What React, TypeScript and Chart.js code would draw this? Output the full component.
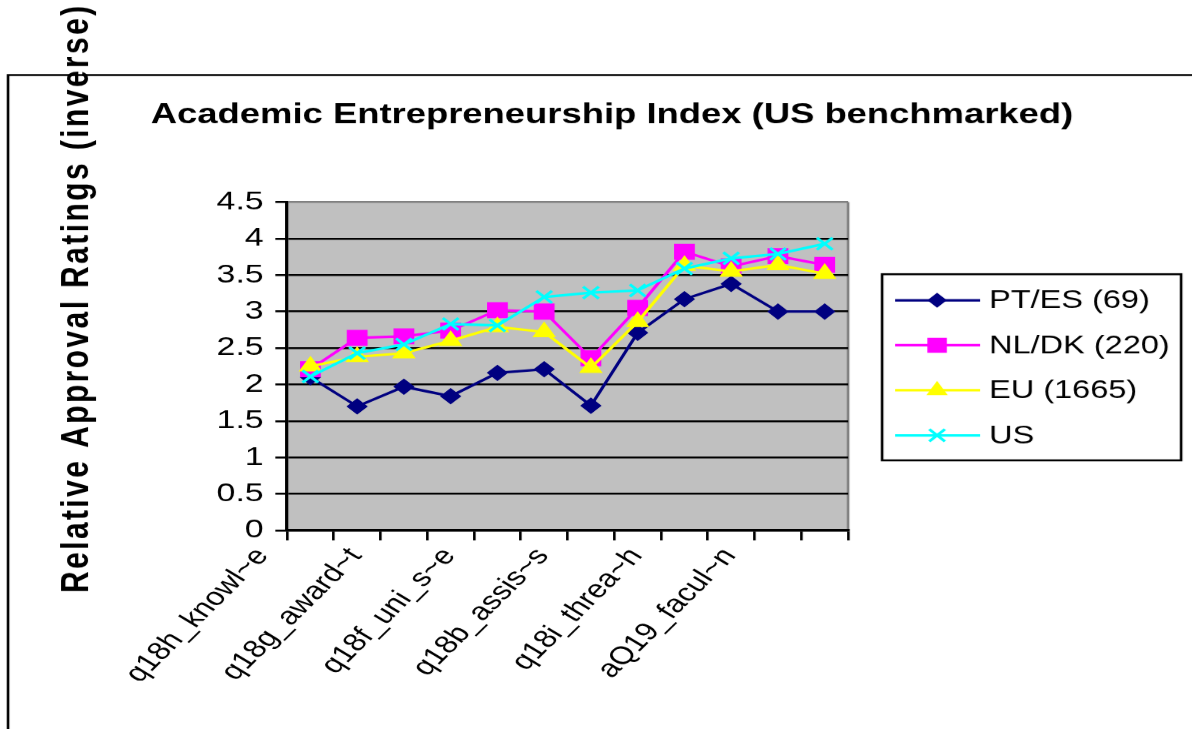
import React, { useEffect, useRef } from 'react';
import { Chart, registerables } from 'chart.js';

Chart.register(...registerables);

// ---------- data ----------
const categories = [
  'q18h_knowl~e', '', 'q18g_award~t', '', 'q18f_uni_s~e', '',
  'q18b_assis~s', '', 'q18i_threa~h', '', 'aQ19_facul~n', '',
];
const ptEs = [2.10, 1.70, 1.97, 1.84, 2.16, 2.21, 1.71, 2.71, 3.17, 3.38, 3.00, 3.00];
const nlDk = [2.21, 2.64, 2.66, 2.74, 3.02, 3.00, 2.36, 3.05, 3.82, 3.62, 3.76, 3.64];
const eu = [2.25, 2.38, 2.43, 2.60, 2.79, 2.72, 2.23, 2.86, 3.63, 3.55, 3.64, 3.52];
const us = [2.11, 2.43, 2.55, 2.83, 2.81, 3.20, 3.26, 3.29, 3.59, 3.73, 3.79, 3.93];
const seriesNames = ['PT/ES (69)', 'NL/DK (220)', 'EU (1665)', 'US'];
const chartTitle = 'Academic Entrepreneurship Index (US benchmarked)';
const yAxisTitle = 'Relative Approval Ratings (inverse)';
const yMin = 0;
const yMax = 4.5;
const yStep = 0.5;

// ---------- layout (picture is stretched horizontally) ----------
const SX = 1.3;
const LW = 917; // logical width
const LH = 729;
const lx = (v: number) => v / SX; // display x -> logical x
const FONT = '"Liberation Sans", Arial, Helvetica, sans-serif';

const colors = ['#000080', '#FF00FF', '#FFFF00', '#00FFFF'];
const styles = ['rectRot', 'rect', 'triangle', 'crossRot'];
const radii = [7.5, 10.6, 9.5, 8.5];

const plotLeft = lx(287);
const plotRight = lx(848);
const plotTop = 202;
const plotBottom = 530;
const yAxisW = 60;
const xAxisH = 150;

function drawMarker(ctx: CanvasRenderingContext2D, style: string, x: number, y: number, r: number, color: string) {
  ctx.save();
  ctx.fillStyle = color;
  ctx.strokeStyle = color;
  ctx.lineWidth = 2.5;
  ctx.beginPath();
  if (style === 'rectRot') {
    ctx.moveTo(x - r, y); ctx.lineTo(x, y - r); ctx.lineTo(x + r, y); ctx.lineTo(x, y + r); ctx.closePath();
    ctx.fill();
  } else if (style === 'rect') {
    const s = r * Math.SQRT1_2;
    ctx.rect(x - s, y - s, 2 * s, 2 * s);
    ctx.fill();
  } else if (style === 'triangle') {
    ctx.moveTo(x, y - r);
    ctx.lineTo(x + r * Math.cos(Math.PI / 6), y + r / 2);
    ctx.lineTo(x - r * Math.cos(Math.PI / 6), y + r / 2);
    ctx.closePath();
    ctx.fill();
  } else {
    const s = r * Math.SQRT1_2;
    ctx.moveTo(x - s, y - s); ctx.lineTo(x + s, y + s);
    ctx.moveTo(x + s, y - s); ctx.lineTo(x - s, y + s);
    ctx.stroke();
  }
  ctx.restore();
}

const decorPlugin = {
  id: 'decor',
  beforeDraw(chart: any) {
    const { ctx, chartArea: a } = chart;
    ctx.save();
    ctx.fillStyle = '#FFFFFF';
    ctx.fillRect(0, 0, chart.width, chart.height);
    ctx.fillStyle = '#C0C0C0';
    ctx.fillRect(a.left, a.top, a.right - a.left, a.bottom - a.top);
    ctx.strokeStyle = '#808080';
    ctx.lineWidth = 2;
    ctx.beginPath();
    ctx.moveTo(a.right, a.top);
    ctx.lineTo(a.right, a.bottom);
    ctx.stroke();
    ctx.restore();
  },
  afterDraw(chart: any) {
    const { ctx } = chart;
    ctx.save();
    // y axis title
    ctx.save();
    ctx.translate(lx(88), 298);
    ctx.rotate(-Math.PI / 2);
    ctx.font = `bold 30px ${FONT}`;
    (ctx as any).letterSpacing = '2.4px';
    ctx.fillStyle = '#000';
    ctx.textAlign = 'center';
    ctx.textBaseline = 'alphabetic';
    ctx.fillText(yAxisTitle, 0, 0);
    ctx.restore();

    // chart-area frame
    ctx.strokeStyle = '#000';
    ctx.lineWidth = 2;
    ctx.beginPath();
    ctx.moveTo(lx(8), LH + 5);
    ctx.lineTo(lx(8), 75);
    ctx.lineTo(LW + 5, 75);
    ctx.stroke();

    // title
    ctx.font = `bold 28px ${FONT}`;
    ctx.fillStyle = '#000';
    ctx.textAlign = 'center';
    ctx.textBaseline = 'middle';
    ctx.fillText(chartTitle, lx(612), 115);

    // legend
    const bl = lx(882), br = lx(1181), bt = 274, bb = 460;
    ctx.fillStyle = '#FFFFFF';
    ctx.fillRect(bl, bt, br - bl, bb - bt);
    ctx.strokeStyle = '#000';
    ctx.lineWidth = 2;
    ctx.strokeRect(bl, bt, br - bl, bb - bt);
    ctx.font = `25px ${FONT}`;
    ctx.textAlign = 'left';
    ctx.textBaseline = 'middle';
    seriesNames.forEach((name, i) => {
      const y = 300 + i * 45;
      ctx.strokeStyle = colors[i];
      ctx.lineWidth = 2.5;
      ctx.beginPath();
      ctx.moveTo(lx(895), y);
      ctx.lineTo(lx(980), y);
      ctx.stroke();
      drawMarker(ctx, styles[i], lx(937), y, radii[i], colors[i]);
      ctx.fillStyle = '#000';
      ctx.fillText(name, lx(989), y + 1);
    });
    ctx.restore();
  },
};

export default function App() {
  const ref = useRef<HTMLCanvasElement>(null);
  useEffect(() => {
    const seriesData = [ptEs, nlDk, eu, us];
    const chart = new Chart(ref.current as HTMLCanvasElement, {
      type: 'line',
      data: {
        labels: categories,
        datasets: seriesData.map((d, i) => ({
          label: seriesNames[i],
          data: d,
          borderColor: colors[i],
          backgroundColor: colors[i],
          pointBackgroundColor: colors[i],
          pointBorderColor: colors[i],
          pointStyle: styles[i] as any,
          pointRadius: radii[i],
          pointBorderWidth: i === 3 ? 2.5 : 1,
          borderWidth: 2.5,
          tension: 0,
          fill: false,
          order: 4 - i,
        })),
      },
      options: {
        responsive: false,
        animation: false,
        devicePixelRatio: SX,
        events: [],
        layout: {
          padding: {
            left: plotLeft - yAxisW,
            top: plotTop,
            right: LW - plotRight,
            bottom: LH - plotBottom - xAxisH,
          },
        },
        plugins: {
          legend: { display: false },
          title: { display: false },
          tooltip: { enabled: false },
        },
        scales: {
          x: {
            type: 'category',
            offset: true,
            grid: {
              display: true,
              offset: true,
              drawOnChartArea: false,
              drawTicks: true,
              tickLength: 10,
              color: '#000',
              lineWidth: 2,
            },
            border: { display: true, color: '#000', width: 2.5 },
            ticks: {
              autoSkip: false,
              minRotation: 52,
              maxRotation: 52,
              labelOffset: -37,
              padding: 2,
              color: '#000',
              font: { family: FONT, size: 25 },
            },
            afterFit: (s: any) => { s.height = xAxisH; },
          },
          y: {
            min: yMin,
            max: yMax,
            ticks: {
              stepSize: yStep,
              padding: 9,
              color: '#000',
              font: { family: FONT, size: 26 },
              callback: (v: any) => String(Number(v)),
            },
            grid: {
              color: (c: any) => (c.tick && c.tick.value === yMax ? '#808080' : '#000'),
              tickColor: '#000',
              lineWidth: 2,
              tickLength: 9,
              drawTicks: true,
            },
            border: { display: true, color: '#000', width: 2.5 },
            afterFit: (s: any) => { s.width = yAxisW; },
          },
        },
      },
      plugins: [decorPlugin],
    });
    return () => chart.destroy();
  }, []);

  return (
    <div style={{ position: 'absolute', left: 0, top: 0, width: 1192, height: 729, overflow: 'hidden', background: '#fff' }}>
      <div style={{ width: LW, height: LH, transform: `scaleX(${SX})`, transformOrigin: '0 0' }}>
        <canvas ref={ref} width={LW} height={LH} style={{ display: 'block' }} />
      </div>
    </div>
  );
}
